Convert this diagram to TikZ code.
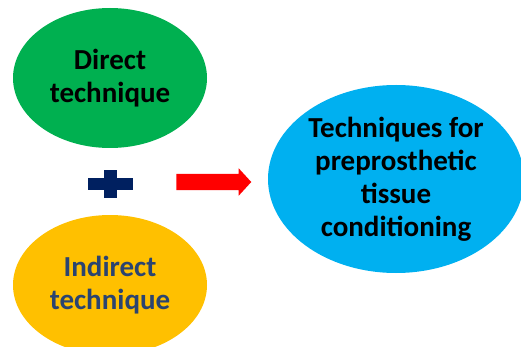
\documentclass[tikz,border=0pt]{standalone}
\usepackage{fontspec}
\setmainfont{Carlito}
\usepackage{xcolor}
\usetikzlibrary{shapes.geometric,shapes.arrows}
\definecolor{dirgreen}{HTML}{00B050}
\definecolor{indyellow}{HTML}{FFC000}
\definecolor{techblue}{HTML}{00B0F0}
\definecolor{plusnavy}{HTML}{002060}
\definecolor{indtext}{HTML}{2B4470}
\begin{document}
\begin{tikzpicture}[x=1pt,y=-1pt,
    bubble/.style={ellipse, inner sep=0pt, align=center, text=black,
      font=\fontsize{29}{33}\selectfont\bfseries},
    bigarrow/.style={single arrow, fill=red, draw=none, inner xsep=0pt, inner ysep=8pt,
      minimum height=75pt, single arrow head extend=5.5pt,
      single arrow tip angle=95}]
\useasboundingbox (0,0) rectangle (521,347);

\node[bubble, fill=dirgreen, minimum width=194pt, minimum height=140pt] (direct) at (110,78) {Direct\\technique};
\node[bubble, fill=indyellow, text=indtext, minimum width=194pt, minimum height=140pt] (indirect) at (110,285) {Indirect\\technique};
\node[bubble, fill=techblue, minimum width=256pt, minimum height=188pt] (tech) at (396,179) {Techniques for\\preprosthetic\\tissue\\conditioning};

% plus sign
\coordinate (plus) at (110,184);
\fill[plusnavy] ([xshift=-22.5pt,yshift=-6pt]plus) rectangle ([xshift=22.5pt,yshift=6pt]plus);
\fill[plusnavy] ([xshift=-6.5pt,yshift=-14pt]plus) rectangle ([xshift=6.5pt,yshift=14pt]plus);

\node[bigarrow] (arrow) at (210,182) {};
\end{tikzpicture}
\end{document}
